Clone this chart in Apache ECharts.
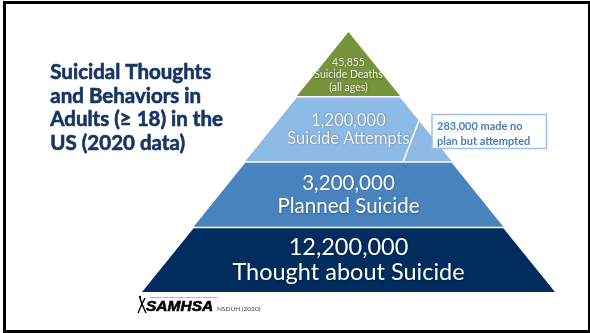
<!DOCTYPE html>
<html>
<head>
<meta charset="utf-8">
<style>
html,body{margin:0;padding:0;background:#fff;}
#main{width:590px;height:333px;}
</style>
<script src="https://cdn.jsdelivr.net/npm/echarts@6/dist/echarts.min.js"></script>
</head>
<body>
<div id="main"></div>
<script>
// ---- data ----
var categories = ['Suicide Deaths', 'Suicide Attempts', 'Planned Suicide', 'Thought about Suicide'];
var counts = [45855, 1200000, 3200000, 12200000];
var countNotes = ['(all ages)', '', '', ''];
var tiers = [1, 2, 3, 4];           // pyramid level (drawn width step)
var annotationLines = ['283,000 made no', 'plan but attempted'];
var titleLines = ['Suicidal Thoughts', 'and Behaviors in', 'Adults (\u2265 18) in the', 'US (2020 data)'];
var sourceText = 'NSDUH (2020)';

// ---- styles ----
var colors = ['#77933c', '#8dbbe6', '#4a84bf', '#012d5e'];
var labelStyles = [
  {size: 10.5, lh: 12.5, color: '#eef2e6', lead: 22},
  {size: 16.5, lh: 18, color: '#f2f2f2', lead: 0},
  {size: 20.5, lh: 23.5, color: '#ffffff', lead: 0},
  {size: 23.5, lh: 25.6, color: '#ffffff', lead: 0}
];

function fmt(n) { return n.toLocaleString('en-US'); }

var data = categories.map(function (c, i) {
  var s = labelStyles[i];
  var lines = [fmt(counts[i]), c];
  if (countNotes[i]) lines.push(countNotes[i]);
  var text = lines.map(function (l) { return '{t|' + l + '}'; }).join('\n');
  if (s.lead) text = '{sp| }\n' + text;
  return {
    name: c,
    value: tiers[i],
    itemStyle: {color: colors[i]},
    label: {
      show: true,
      position: 'inside',
      formatter: text,
      rich: {
        sp: {fontSize: 1, lineHeight: s.lead || 1},
        t: {
          fontFamily: 'Lato',
          fontSize: s.size,
          lineHeight: s.lh,
          color: s.color,
          textShadowColor: 'rgba(0,0,0,0.35)',
          textShadowBlur: 2,
          textShadowOffsetX: 0.5,
          textShadowOffsetY: 0.5
        }
      }
    }
  };
});

var chart = echarts.init(document.getElementById('main'), null, {renderer: 'canvas'});
chart.setOption({
  backgroundColor: '#ffffff',
  animation: false,
  series: [{
    type: 'funnel',
    sort: 'ascending',
    left: 142, top: 32, width: 413, height: 260,
    min: 0, max: 4,
    minSize: '0%', maxSize: '100%',
    gap: 1.5,
    labelLine: {show: false},
    emphasis: {disabled: true},
    itemStyle: {borderWidth: 0},
    data: data
  }],
  graphic: [
    {type: 'rect', shape: {x: 4.5, y: 2.5, width: 585, height: 329},
     style: {fill: null, stroke: '#000', lineWidth: 3}, z: 100},
    {type: 'text', left: 50, top: 61,
     style: {text: titleLines.join('\n'), font: 'bold 20.5px Lato', lineHeight: 23.5,
             fill: '#173462', stroke: '#173462', lineWidth: 0.6}},
    {type: 'line', shape: {x1: 420, y1: 118, x2: 403, y2: 162},
     style: {stroke: '#ffffff', lineWidth: 1.5}, z: 10},
    {type: 'rect', shape: {x: 432, y: 114.5, width: 114.5, height: 34},
     style: {fill: '#ffffff', stroke: '#9dc3e6', lineWidth: 1.5}, z: 10},
    {type: 'text', x: 437, y: 118.5,
     style: {text: annotationLines.join('\n'), font: 'bold 11px Lato', lineHeight: 15.5, fill: '#4a7ebb'}, z: 11},
    // logo
    {type: 'text', x: 146, y: 299,
     style: {text: 'SAMHSA', font: 'italic bold 15.5px "Liberation Sans"', fill: '#000', stroke: '#000', lineWidth: 0.6}, z: 11},
    {type: 'text', x: 150, y: 295.5,
     style: {text: 'Substance Abuse and Mental Health Services Administration', font: '2.5px "Liberation Sans"', fill: '#333'}, z: 11},
    {type: 'polyline', shape: {points: [[138, 313], [142, 304], [140, 298]]},
     style: {stroke: '#000', lineWidth: 1.4, fill: null}, z: 11},
    {type: 'polyline', shape: {points: [[146, 313], [142, 304], [145, 298]]},
     style: {stroke: '#000', lineWidth: 1.4, fill: null}, z: 11},
    {type: 'circle', shape: {cx: 140, cy: 297, r: 1.2}, style: {fill: '#000'}, z: 11},
    {type: 'text', x: 217, y: 305.5,
     style: {text: sourceText, font: '6.5px Lato', fill: '#404040'}, z: 11}
  ]
});
</script>
</body>
</html>
